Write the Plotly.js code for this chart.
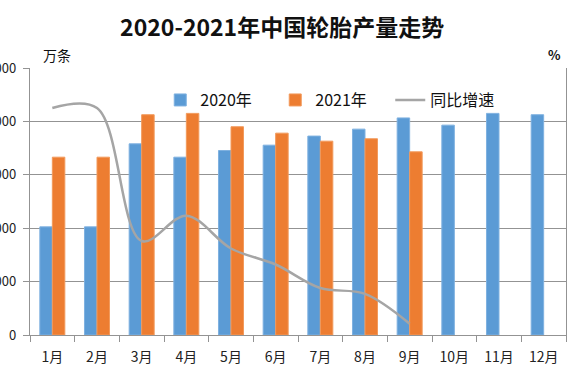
<!DOCTYPE html>
<html>
<head>
<meta charset="utf-8">
<script src="https://cdn.plot.ly/plotly-3.0.1.min.js"></script>
<style>html,body{margin:0;padding:0;background:#fff;}#chart{width:570px;height:380px;}</style>
</head>
<body>
<div id="chart"></div>
<script>
const months = ["1月","2月","3月","4月","5月","6月","7月","8月","9月","10月","11月","12月"];
const output2020 = [4050, 4050, 7160, 6660, 6910, 7110, 7450, 7710, 8130, 7860, 8300, 8250];
const output2021 = [6660, 6660, 8250, 8300, 7800, 7560, 7260, 7350, 6860, null, null, null];
const growthMonths = ["1月","2月","3月","4月","5月","6月","7月","8月","9月"];
const growthRate = [65, 65, 15.2, 24.7, 12.4, 6.4, -2.4, -4.6, -15.8];

const font = "'Noto Sans CJK SC', 'Noto Sans', sans-serif";
const gridColor = "#939393";

const traces = [
  {type: "bar", name: "2020年", x: months, y: output2020,
   marker: {color: "#5B9BD5", line: {color: "#7fb1e0", width: 1}}},
  {type: "bar", name: "2021年", x: months, y: output2021,
   marker: {color: "#ED7D31", line: {color: "#f29a5c", width: 1}}},
  {type: "scatter", mode: "lines", name: "同比增速", x: growthMonths, y: growthRate,
   yaxis: "y2", line: {color: "#A5A5A5", width: 2.5, shape: "spline", smoothing: 1}}
];

const layout = {
  width: 570, height: 380,
  margin: {l: 30, r: 4, t: 68, b: 45},
  paper_bgcolor: "#fff", plot_bgcolor: "#fff",
  font: {family: font, size: 13, color: "#222"},
  title: {text: "<b>2020-2021年中国轮胎产量走势</b>", x: 0.495, xanchor: "center",
          y: 0.926, yanchor: "middle", yref: "container",
          font: {family: font, size: 23, color: "#111"}},
  barmode: "group", bargap: 0.44, bargroupgap: 0,
  showlegend: true,
  legend: {orientation: "h", x: 0.243, xanchor: "left", y: 0.88, yanchor: "middle",
           bgcolor: "rgba(0,0,0,0)", font: {family: font, size: 16, color: "#111"},
           itemwidth: 30, traceorder: "normal", entrywidth: 70, entrywidthmode: "pixels"},
  xaxis: {type: "category", showgrid: false, showline: true, linecolor: gridColor, linewidth: 1.3,
          ticks: "outside", tickson: "boundaries", ticklen: 6, tickcolor: gridColor,
          tickfont: {family: font, size: 14, color: "#222"}, ticklabelstandoff: 9, fixedrange: true},
  yaxis: {range: [0, 10000], dtick: 2000, tickformat: "d", showgrid: true, gridcolor: gridColor, gridwidth: 1.3,
          showline: true, linecolor: gridColor, linewidth: 1.3, ticks: "outside", ticklen: 6,
          tickcolor: gridColor, tickfont: {family: font, size: 13, color: "#222"},
          ticklabelstandoff: 4, zeroline: false, automargin: false},
  yaxis2: {range: [-20, 80], dtick: 20, overlaying: "y", side: "right", showgrid: false,
           showline: true, linecolor: gridColor, linewidth: 1.3, showticklabels: false,
           ticks: "", zeroline: false},
  annotations: [
    {text: "万条", xref: "paper", yref: "paper", x: 0.0495, y: 1.05, xanchor: "center", yanchor: "middle",
     showarrow: false, font: {family: font, size: 14, color: "#111"}},
    {text: "<b>%</b>", xref: "paper", yref: "paper", x: 0.979, y: 1.05, xanchor: "center", yanchor: "middle",
     showarrow: false, font: {family: font, size: 13, color: "#111"}}
  ]
};

Plotly.newPlot("chart", traces, layout, {displayModeBar: false, staticPlot: true});
</script>
</body>
</html>
